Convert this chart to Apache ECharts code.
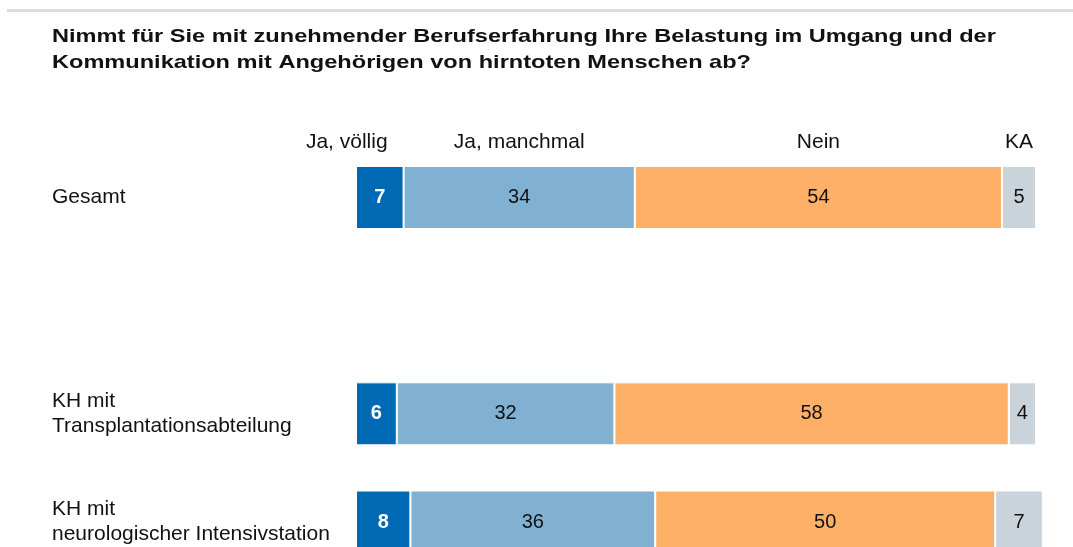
<!DOCTYPE html>
<html>
<head>
<meta charset="utf-8">
<script src="https://cdn.jsdelivr.net/npm/echarts@6/dist/echarts.min.js"></script>
<style>
  html, body { margin: 0; padding: 0; background: #fff; }
  #chart { width: 1073px; height: 547px; }
</style>
</head>
<body>
<div id="chart"></div>
<script>
// Answer groups (rows); the empty entry leaves the gap under "Gesamt"
const categories = ['Gesamt', '', 'KH mit\nTransplantationsabteilung', 'KH mit\nneurologischer Intensivstation'];
const seriesNames = ['Ja, völlig', 'Ja, manchmal', 'Nein', 'KA'];
const jaVoellig  = [7, null, 6, 8];
const jaManchmal = [34, null, 32, 36];
const nein       = [54, null, 58, 50];
const ka         = [5, null, 4, 7];
const colors = ['#0069B4', '#80B1D3', '#FFB068', '#CBD3DA'];

const FONT = '"Liberation Sans", Arial, sans-serif';
const TEXT = '#111111';
const values = [jaVoellig, jaManchmal, nein, ka];

const chart = echarts.init(document.getElementById('chart'));

const series = values.map((data, i) => ({
  name: seriesNames[i],
  type: 'bar',
  stack: 'total',
  barWidth: 63,
  clip: false,
  data: data,
  itemStyle: { color: colors[i], borderColor: '#ffffff', borderWidth: 1 },
  label: {
    show: true,
    position: 'inside',
    fontFamily: FONT,
    fontSize: 20,
    color: i === 0 ? '#ffffff' : TEXT,
    fontWeight: i === 0 ? 'bold' : 'normal'
  }
}));

const baseGraphics = [
  { id: 'topRule', type: 'rect', shape: { x: 7, y: 9, width: 1066, height: 3 }, style: { fill: '#D8DEDC' } },
  {
    id: 'title', type: 'text', x: 52, y: 24, scaleX: 1.24,
    style: {
      text: 'Nimmt für Sie mit zunehmender Berufserfahrung Ihre Belastung im Umgang und der\nKommunikation mit Angehörigen von hirntoten Menschen ab?',
      font: 'bold 19px ' + FONT,
      lineHeight: 26,
      fill: TEXT
    }
  }
];

chart.setOption({
  animation: false,
  backgroundColor: '#ffffff',
  grid: { left: 356, right: 37, top: 197.5, bottom: 24, containLabel: false },
  xAxis: { type: 'value', min: 0, max: 100, show: false },
  yAxis: {
    type: 'category',
    data: categories,
    inverse: true,
    boundaryGap: false,
    axisLine: { show: false },
    axisTick: { show: false },
    splitLine: { show: false },
    axisLabel: {
      align: 'left',
      margin: 304,
      fontFamily: FONT,
      fontSize: 21,
      lineHeight: 25,
      color: TEXT
    }
  },
  series: series,
  graphic: baseGraphics
});

// Column headers above the first row, placed at the segment centres
let cum = 0;
const headers = seriesNames.map((name, i) => {
  const start = cum;
  cum += values[i][0];
  const mid = chart.convertToPixel({ gridIndex: 0 }, [(start + cum) / 2, 0]);
  const end = chart.convertToPixel({ gridIndex: 0 }, [cum, 0]);
  const first = i === 0;
  return {
    id: 'header' + i,
    type: 'text',
    x: first ? end[0] - 16 : mid[0],
    y: mid[1] - 55,
    style: {
      text: name,
      font: '21px ' + FONT,
      fill: TEXT,
      align: first ? 'right' : 'center',
      verticalAlign: 'middle'
    }
  };
});
chart.setOption({ graphic: baseGraphics.concat(headers) });
</script>
</body>
</html>
